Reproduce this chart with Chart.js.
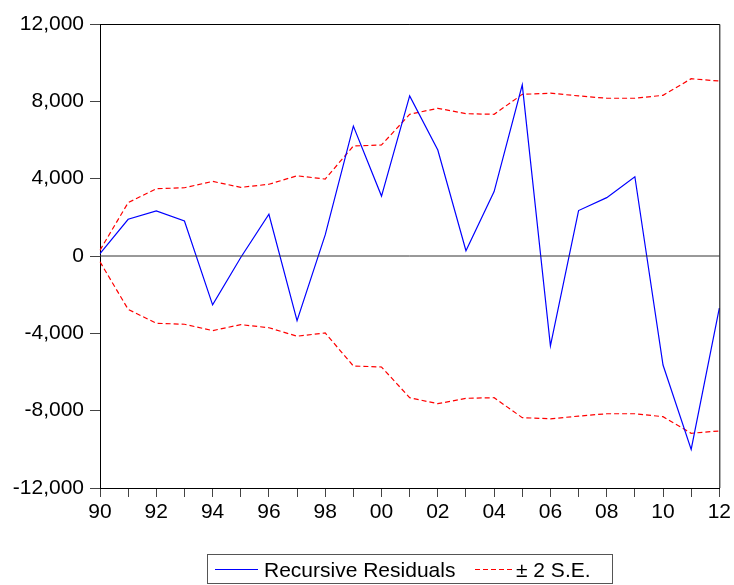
<!DOCTYPE html>
<html>
<head>
<meta charset="utf-8">
<script src="https://cdn.jsdelivr.net/npm/chart.js@4"></script>
<style>
  body { margin: 0; background: #fff; }
  #wrap { position: relative; width: 734px; height: 585px; }
  #legend {
    position: absolute; left: 207px; top: 554px; width: 406px; height: 30px;
    border: 1px solid #555; box-sizing: border-box;
    font-family: "Liberation Sans", Arial, sans-serif; font-size: 21px; color: #000;
  }
  #legend span { position: absolute; }
  #legend .sample { height: 0; }
</style>
</head>
<body>
<div id="wrap">
  <canvas id="myChart" width="734" height="585"></canvas>
  <div id="legend">
    <span class="sample" style="left:7px;top:14px;width:43px;border-top:1px solid #0000ff"></span>
    <span style="left:56px;top:3px">Recursive Residuals</span>
    <span class="sample" style="left:267px;top:14px;width:40px;height:1px;background:repeating-linear-gradient(to right,#ff0000 0 5px,transparent 5px 8px)"></span>
    <span style="left:308px;top:3px">± 2 S.E.</span>
  </div>
</div>
<script>
const years = ['90','91','92','93','94','95','96','97','98','99','00','01','02','03','04','05','06','07','08','09','10','11','12'];
const residuals = [120, 1900, 2330, 1810, -2530, -80, 2160, -3340, 1090, 6720, 3100, 8280, 5480, 270, 3330, 8850, -4650, 2350, 3020, 4100, -5640, -10000, -2700];
const upperBand = [300, 2760, 3480, 3530, 3860, 3550, 3710, 4150, 3980, 5690, 5740, 7330, 7640, 7360, 7330, 8360, 8420, 8280, 8160, 8160, 8310, 9170, 9050];
const lowerBand = upperBand.map(v => -v);
const yTicks = [-12000, -8000, -4000, 0, 4000, 8000, 12000];

const fontSpec = { family: '"Liberation Sans", Arial, sans-serif', size: 21 };

// zero line plus the top and right sides of the frame
const framePlugin = {
  id: 'frame',
  afterDatasetsDraw(chart) {
    const { ctx, chartArea, scales } = chart;
    const y0 = scales.y.getPixelForValue(0);
    ctx.save();
    ctx.lineWidth = 1;
    ctx.strokeStyle = '#333';
    ctx.beginPath();
    ctx.moveTo(chartArea.left, y0);
    ctx.lineTo(chartArea.right, y0);
    ctx.stroke();
    ctx.strokeStyle = '#000';
    ctx.beginPath();
    ctx.moveTo(chartArea.left, chartArea.top + 0.5);
    ctx.lineTo(chartArea.right + 0.5, chartArea.top + 0.5);
    ctx.lineTo(chartArea.right + 0.5, chartArea.bottom);
    ctx.stroke();
    ctx.restore();
  }
};

const data = {
  labels: years,
  datasets: [
    {
      label: 'Recursive Residuals',
      data: residuals,
      borderColor: '#0000ff',
      borderWidth: 1.2,
      pointRadius: 0,
      tension: 0,
      order: 1,
    },
    {
      label: '± 2 S.E.',
      data: upperBand,
      borderColor: '#ff0000',
      borderWidth: 1.2,
      borderDash: [5, 3],
      pointRadius: 0,
      order: 2,
    },
    {
      label: '± 2 S.E. lower',
      data: lowerBand,
      borderColor: '#ff0000',
      borderWidth: 1.2,
      borderDash: [5, 3],
      pointRadius: 0,
      order: 2,
    },
  ],
};

const config = {
  type: 'line',
  data,
  options: {
    responsive: false,
    animation: false,
    layout: { padding: { left: 0, right: 14, top: 24, bottom: 62 } },
    plugins: {
      legend: { display: false },
      tooltip: { enabled: false },
    },
    scales: {
      x: {
        type: 'category',
        offset: false,
        grid: { drawOnChartArea: false, drawTicks: true, tickLength: 9, color: '#444' },
        border: { color: '#000', width: 1 },
        ticks: {
          autoSkip: false,
          maxRotation: 0,
          color: '#000',
          font: fontSpec,
          padding: 3,
          callback: (val, i) => (i % 2 === 0 ? years[i] : ''),
        },
        afterFit: (scale) => { scale.height = 35; },
      },
      y: {
        min: -12000,
        max: 12000,
        afterBuildTicks: (scale) => { scale.ticks = yTicks.map(v => ({ value: v })); },
        grid: { drawOnChartArea: false, drawTicks: true, tickLength: 10, color: '#444' },
        border: { color: '#000', width: 1 },
        ticks: {
          color: '#000',
          font: fontSpec,
          padding: 6,
          callback: (v) => v.toLocaleString('en-US'),
        },
        afterFit: (scale) => { scale.width = 100; },
      },
    },
  },
  plugins: [framePlugin],
};

const canvas = document.getElementById('myChart');
const myChart = new Chart(canvas, config);
</script>
</body>
</html>
